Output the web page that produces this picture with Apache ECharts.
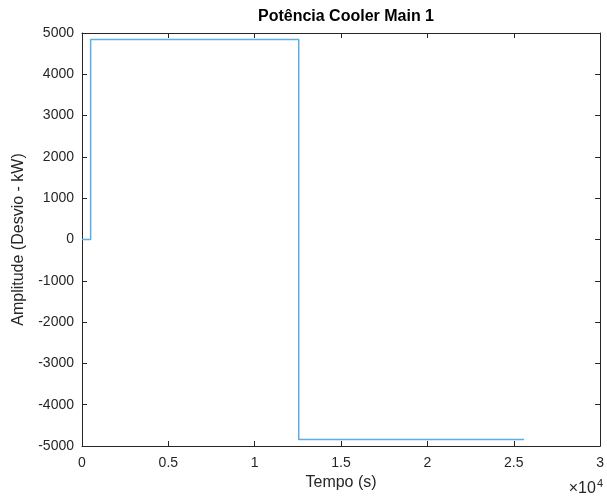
<!DOCTYPE html>
<html>
<head>
<meta charset="utf-8">
<script src="https://cdn.jsdelivr.net/npm/echarts@6/dist/echarts.min.js"></script>
<style>
  html, body { margin: 0; padding: 0; background: #fff; }
  #chart { width: 607px; height: 499px; }
</style>
</head>
<body>
<div id="chart"></div>
<script>
// Step signal (time in s, power deviation in kW)
const tempo = [0, 500, 12550, 25600];
const amplitude = [0, 4840, -4840, -4840];

const axisColor = '#262626';
const font = 'Liberation Sans, Arial, sans-serif';

const points = tempo.map((t, i) => [t, amplitude[i]]);

// MATLAB-like box: ticks inside, lines on all four sides
function boxAxis(extra) {
    return Object.assign({
        type: 'value',
        axisLine: { show: true, onZero: false, lineStyle: { color: axisColor, width: 1 } },
        axisTick: { show: true, inside: true, length: 5, lineStyle: { color: axisColor } },
        splitLine: { show: false },
        axisLabel: { show: false }
    }, extra);
}

const chart = echarts.init(document.getElementById('chart'));
chart.setOption({
    animation: false,
    backgroundColor: '#fff',
    title: {
        text: 'Potência Cooler Main 1',
        left: 341, top: 4, textAlign: 'center',
        textStyle: { fontFamily: font, fontSize: 16, fontWeight: 'bold', color: '#000' }
    },
    grid: { left: 82, right: 6, top: 33, bottom: 53 },
    xAxis: [
        boxAxis({
            min: 0, max: 30000, interval: 5000, position: 'bottom',
            axisLabel: {
                show: true, margin: 10, color: axisColor, fontFamily: font, fontSize: 14,
                formatter: v => String(v / 10000)
            },
            name: 'Tempo (s)', nameLocation: 'middle', nameGap: 27,
            nameTextStyle: { color: axisColor, fontFamily: font, fontSize: 16 }
        }),
        boxAxis({ min: 0, max: 30000, interval: 5000, position: 'top' })
    ],
    yAxis: [
        boxAxis({
            min: -5000, max: 5000, interval: 1000, position: 'left',
            axisLabel: {
                show: true, margin: 8, color: axisColor, fontFamily: font, fontSize: 14,
                formatter: v => String(v)
            },
            name: 'Amplitude (Desvio - kW)', nameLocation: 'middle', nameGap: 55,
            nameTextStyle: { color: axisColor, fontFamily: font, fontSize: 16 }
        }),
        boxAxis({ min: -5000, max: 5000, interval: 1000, position: 'right' })
    ],
    graphic: [{
        type: 'text', right: 4, bottom: 2,
        style: {
            text: '{b|×10}{s|4}',
            fill: axisColor,
            rich: {
                b: { fontFamily: font, fontSize: 16, fill: axisColor },
                s: { fontFamily: font, fontSize: 11, verticalAlign: 'top', padding: [0, 0, 10, 1], fill: axisColor }
            }
        }
    }],
    series: [{
        type: 'line',
        data: points,
        step: 'end',
        showSymbol: false,
        lineStyle: { color: '#5AAEE6', width: 1.5 }
    }]
});
</script>
</body>
</html>
